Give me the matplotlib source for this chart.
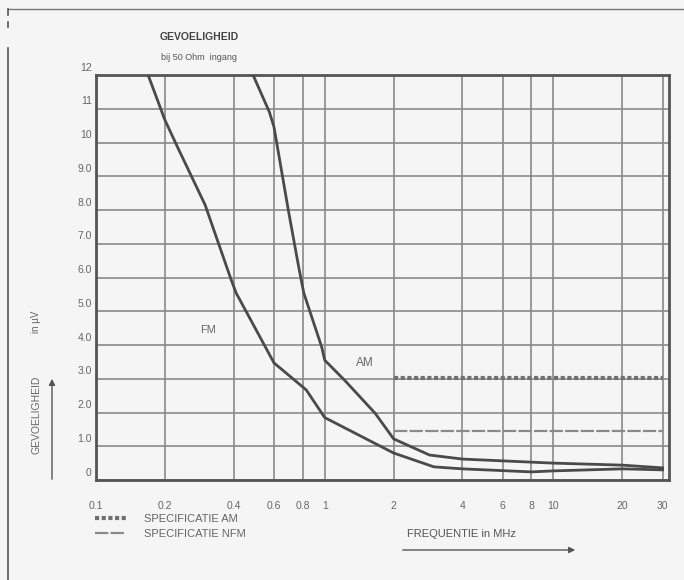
import matplotlib
matplotlib.use("Agg")
import matplotlib.pyplot as plt
from matplotlib.lines import Line2D
import matplotlib.transforms as mtransforms

plt.rcParams['font.family'] = ['Liberation Sans', 'DejaVu Sans']

# ---- data ----
fm_freq = [0.169, 0.2, 0.227, 0.30, 0.39, 0.41, 0.6, 0.83, 1.0, 2.0, 3.0, 4.0, 8.0, 10.0, 20.0, 30.0]
fm_sens = [12.0, 10.67, 9.87, 8.15, 5.93, 5.54, 3.47, 2.67, 1.85, 0.8, 0.39, 0.33, 0.24, 0.27, 0.33, 0.30]

am_freq = [0.486, 0.573, 0.60, 0.693, 0.77, 0.81, 0.97, 1.0, 1.22, 1.66, 2.0, 2.87, 4.0, 10.0, 20.0, 30.0]
am_sens = [12.0, 10.9, 10.46, 8.0, 6.3, 5.54, 3.94, 3.55, 2.96, 1.98, 1.22, 0.74, 0.62, 0.5, 0.44, 0.36]

spec_freq = [2.0, 30.0]
spec_am = [3.02, 3.02]
spec_nfm = [1.45, 1.45]

x_ticks = [0.1, 0.2, 0.4, 0.6, 0.8, 1, 2, 4, 6, 8, 10, 20, 30]
x_labels = ['0.1', '0.2', '0.4', '0.6', '0.8', '1', '2', '4', '6', '8', '10', '20', '30']
y_ticks = list(range(0, 13))
y_labels = ['0', '1.0', '2.0', '3.0', '4.0', '5.0', '6.0', '7.0', '8.0', '9.0', '10', '11', '12']

BG = '#f5f5f5'
W, H = 684, 580
fig = plt.figure(figsize=(W / 100, H / 100), dpi=100, facecolor=BG)
ax = fig.add_axes([96 / W, 1 - 480 / H, (669 - 96) / W, (480 - 75) / H], facecolor=BG)

ax.set_xscale('log')
ax.set_xlim(0.1, 32)
ax.set_ylim(0, 12)
ax.set_xticks(x_ticks)
ax.set_xticklabels(x_labels)
ax.xaxis.set_minor_locator(matplotlib.ticker.NullLocator())
ax.set_yticks(y_ticks)
ax.set_yticklabels(y_labels)
ax.tick_params(length=0, labelsize=7.5, labelcolor='#666666')
ax.tick_params(axis='x', pad=15)
ax.tick_params(axis='y', pad=3)
# scanned labels sit a little above their grid lines
offset = mtransforms.ScaledTranslation(0, 6 / 72, fig.dpi_scale_trans)
for lbl in ax.get_yticklabels():
    lbl.set_transform(lbl.get_transform() + offset)
    lbl.set_horizontalalignment('right')

ax.grid(True, which='major', color='#8a8a8a', lw=1.2)
for s in ax.spines.values():
    s.set_color('#555555')
    s.set_linewidth(2)

ax.plot(fm_freq, fm_sens, color='#4a4a4a', lw=2, zorder=3)
ax.plot(am_freq, am_sens, color='#4a4a4a', lw=2, zorder=3)

am_line, = ax.plot(spec_freq, spec_am, color='#707070', lw=3, ls=(0, (1, 0.6)), zorder=3)
nfm_line, = ax.plot(spec_freq, spec_nfm, color='#8a8a8a', lw=1.6, ls=(0, (6, 1)), zorder=3)

ax.text(0.308, 4.44, 'FM', fontsize=8, color='#666666', ha='center', va='center')
ax.text(1.5, 3.47, 'AM', fontsize=8.5, color='#666666', ha='center', va='center')

# titles
fig.text(199 / W, 1 - 37 / H, 'GEVOELIGHEID', fontsize=7.5, fontweight='bold',
         color='#444444', ha='center', va='center')
fig.text(199 / W, 1 - 57 / H, 'bij 50 Ohm  ingang', fontsize=6.5,
         color='#555555', ha='center', va='center')

# y label with arrow
fig.text(36 / W, 1 - 415 / H, 'GEVOELIGHEID', rotation=90, fontsize=7.5,
         color='#666666', ha='center', va='center')
fig.text(36 / W, 1 - 322 / H, 'in µV', rotation=90, fontsize=7,
         color='#666666', ha='center', va='center')
fig.add_artist(matplotlib.patches.FancyArrowPatch(
    (52 / W, 1 - 482 / H), (52 / W, 1 - 376 / H), transform=fig.transFigure,
    arrowstyle='-|>', mutation_scale=9, color='#555555', lw=1))

# x label with arrow
fig.text(407 / W, 1 - 534 / H, 'FREQUENTIE in MHz', fontsize=8,
         color='#555555', ha='left', va='center')
fig.add_artist(matplotlib.patches.FancyArrowPatch(
    (400 / W, 1 - 550 / H), (578 / W, 1 - 550 / H), transform=fig.transFigure,
    arrowstyle='-|>', mutation_scale=9, color='#555555', lw=1))

# legend
leg = fig.legend([am_line, nfm_line], ['SPECIFICATIE AM', 'SPECIFICATIE NFM'],
                 loc='upper left', bbox_to_anchor=(95 / W, 1 - 514 / H),
                 frameon=False, fontsize=8, handlelength=2.8, handletextpad=1.6,
                 labelspacing=0.45, borderaxespad=0, borderpad=0)
for t in leg.get_texts():
    t.set_color('#666666')

# outer scanned frame
fig.add_artist(Line2D([8 / W, 1.0], [1 - 9 / H, 1 - 9 / H], transform=fig.transFigure,
                      color='#777777', lw=1))
fig.add_artist(Line2D([8 / W, 8 / W], [1 - 9 / H, 1 - 15 / H], transform=fig.transFigure,
                      color='#555555', lw=1.2))
fig.add_artist(Line2D([8 / W, 8 / W], [1 - 22 / H, 1 - 27 / H], transform=fig.transFigure,
                      color='#555555', lw=1.2))
fig.add_artist(Line2D([8 / W, 8 / W], [1 - 48 / H, 0], transform=fig.transFigure,
                      color='#555555', lw=1.2))

fig.savefig('out.png', dpi=100, facecolor=BG)
